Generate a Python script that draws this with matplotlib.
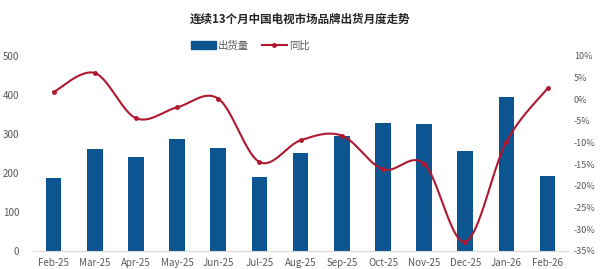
import numpy as np
import matplotlib
matplotlib.use('Agg')
import matplotlib.pyplot as plt
from matplotlib.lines import Line2D
from matplotlib.patches import Patch

plt.rcParams['font.family'] = ['Noto Sans CJK SC', 'DejaVu Sans']

months = ['Feb-25', 'Mar-25', 'Apr-25', 'May-25', 'Jun-25', 'Jul-25', 'Aug-25',
          'Sep-25', 'Oct-25', 'Nov-25', 'Dec-25', 'Jan-26', 'Feb-26']
shipments = [188, 260, 240, 287, 263, 190, 252, 295, 327, 325, 257, 393, 192]
yoy = [1.6, 6.0, -4.4, -1.9, 0.1, -14.5, -9.5, -8.4, -16.2, -14.9, -32.9, -9.8, 2.5]

bar_color = '#0D5591'
line_color = '#B0182F'
text_color = '#595959'

fig = plt.figure(figsize=(6.0, 2.69), dpi=100)
ax = fig.add_axes([0.055, 0.067, 0.892, 0.726])
x = np.arange(len(months))
ax.bar(x, shipments, width=0.38, color=bar_color, zorder=2)
ax.set_xlim(-0.5, len(months) - 0.5)
ax.set_ylim(0, 500)
ax.set_yticks(range(0, 501, 100))
ax.set_xticks(x)
ax.set_xticklabels(months)

ax2 = ax.twinx()
ax2.set_ylim(-35, 10)
ax2.set_yticks(range(-35, 11, 5))
ax2.set_yticklabels([f'{v}%' for v in range(-35, 11, 5)])

# smoothed line like Excel (Catmull-Rom style bezier through the points)
px = x.astype(float)
py = np.array(yoy, dtype=float)
sx, sy = [], []
t = np.linspace(0, 1, 30)
n = len(px)
for i in range(n - 1):
    p0 = (px[max(i - 1, 0)], py[max(i - 1, 0)])
    p1 = (px[i], py[i])
    p2 = (px[i + 1], py[i + 1])
    p3 = (px[min(i + 2, n - 1)], py[min(i + 2, n - 1)])
    c1 = (p1[0] + (p2[0] - p0[0]) / 6, p1[1] + (p2[1] - p0[1]) / 6)
    c2 = (p2[0] - (p3[0] - p1[0]) / 6, p2[1] - (p3[1] - p1[1]) / 6)
    bx = (1 - t) ** 3 * p1[0] + 3 * (1 - t) ** 2 * t * c1[0] + 3 * (1 - t) * t ** 2 * c2[0] + t ** 3 * p2[0]
    by = (1 - t) ** 3 * p1[1] + 3 * (1 - t) ** 2 * t * c1[1] + 3 * (1 - t) * t ** 2 * c2[1] + t ** 3 * p2[1]
    sx.extend(bx)
    sy.extend(by)
ax2.plot(sx, sy, color=line_color, lw=1.5, zorder=3)
ax2.plot(px, py, 'o', color=line_color, ms=2.5, zorder=4)

for a in (ax, ax2):
    for s in ['top', 'left', 'right', 'bottom']:
        a.spines[s].set_visible(False)
    a.tick_params(length=0, labelsize=7, colors=text_color)
ax.spines['bottom'].set_visible(True)
ax.spines['bottom'].set_color('#D9D9D9')
ax.tick_params(axis='y', pad=10)
ax.tick_params(axis='x', pad=5)
ax2.tick_params(axis='y', pad=4, labelsize=6.5)

fig.text(0.5, 0.93, '连续13个月中国电视市场品牌出货月度走势', ha='center', va='center',
         fontsize=8.3, fontweight='bold', color='#262626')

handles = [Patch(color=bar_color), Line2D([0], [0], color=line_color, lw=1.5, marker='o', ms=2.5)]
fig.legend(handles, ['出货量', '同比'], loc='center', bbox_to_anchor=(0.417, 0.83), ncol=2,
           frameon=False, fontsize=7.5, handlelength=2.4, handleheight=0.8,
           columnspacing=1.2, handletextpad=0.2, labelcolor=text_color)

fig.savefig('out.png', dpi=100)
